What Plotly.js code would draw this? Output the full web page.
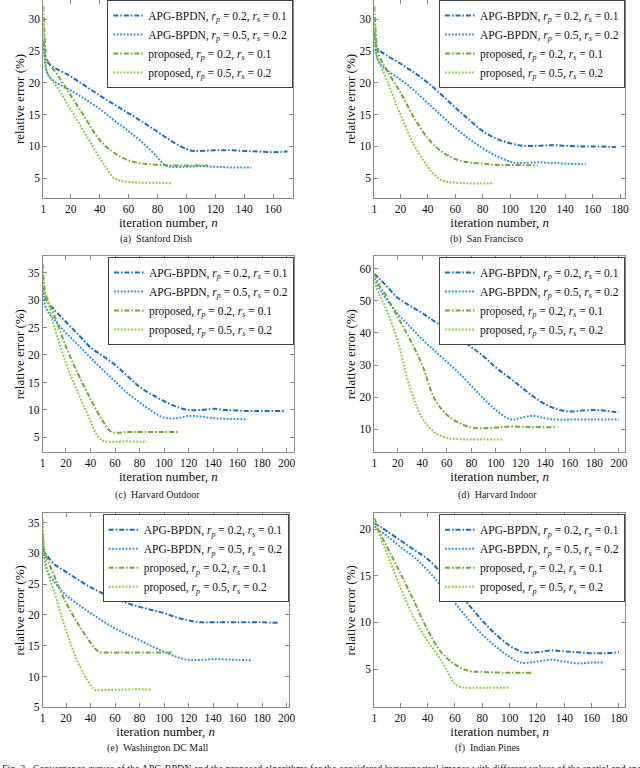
<!DOCTYPE html>
<html>
<head>
<meta charset="utf-8">
<script src="https://cdn.plot.ly/plotly-3.0.1.min.js"></script>
<style>
  html, body { margin: 0; padding: 0; background: #fff; }
  #chart { width: 640px; height: 768px; }
</style>
</head>
<body>
<div id="chart"></div>
<script>
// (a) Stanford Dish
const dishApg02N = [1, 2, 3, 5, 10, 20, 30, 40, 50, 60, 70, 80, 90, 100, 105, 110, 120, 130, 140, 150, 160, 170];
const dishApg02 = [26.5, 24.5, 23.5, 23, 22.2, 21, 19.5, 18, 16.6, 15.2, 13.8, 12.3, 10.8, 9.6, 9.3, 9.3, 9.4, 9.4, 9.3, 9.2, 9.1, 9.2];
const dishApg05N = [1, 2, 3, 5, 10, 20, 30, 40, 50, 60, 70, 80, 85, 90, 100, 110, 120, 130, 145];
const dishApg05 = [26, 23.5, 22, 21, 20, 18.8, 17.4, 15.9, 14.1, 12.4, 10.5, 8.3, 7.1, 6.8, 6.8, 6.9, 6.8, 6.7, 6.7];
const dishProp02N = [1, 2, 3, 5, 10, 20, 30, 40, 50, 60, 70, 80, 90, 100, 115];
const dishProp02 = [32, 27, 24, 23, 21.5, 18, 14.5, 11, 9, 7.8, 7.3, 7.1, 7.0, 7.0, 7.0];
const dishProp05N = [1, 2, 3, 5, 10, 20, 30, 40, 45, 50, 55, 60, 70, 80, 90];
const dishProp05 = [30, 25, 22.5, 21, 19.5, 15.8, 12, 8.2, 6.5, 5.0, 4.6, 4.4, 4.3, 4.3, 4.2];

// (b) San Francisco
const sfApg02N = [1, 2, 3, 5, 10, 20, 30, 40, 50, 60, 70, 80, 90, 100, 110, 120, 130, 140, 150, 160, 177];
const sfApg02 = [28, 26, 25.5, 25, 24.3, 23, 21.6, 20, 18.1, 16.1, 14.2, 12.4, 11.2, 10.5, 10.1, 10.1, 10.2, 10.1, 10.0, 10.0, 9.9];
const sfApg05N = [1, 2, 3, 5, 10, 20, 30, 40, 50, 60, 70, 80, 90, 100, 105, 110, 120, 130, 140, 155];
const sfApg05 = [27, 25, 24, 23, 22, 20.5, 18.8, 16.8, 14.8, 12.9, 11.2, 9.7, 8.5, 7.6, 7.4, 7.4, 7.5, 7.4, 7.3, 7.2];
const sfProp02N = [1, 2, 3, 5, 10, 20, 30, 40, 50, 60, 70, 80, 90, 100, 120];
const sfProp02 = [32, 28, 25.5, 24, 22, 18.5, 14.5, 11.3, 9.2, 8.0, 7.5, 7.3, 7.1, 7.1, 7.0];
const sfProp05N = [1, 2, 3, 5, 10, 20, 30, 40, 45, 50, 55, 60, 70, 88];
const sfProp05 = [30, 26, 24, 23, 20.5, 15, 10.2, 6.8, 5.5, 4.7, 4.4, 4.3, 4.2, 4.2];

// (c) Harvard Outdoor
const hoApg02N = [1, 3, 5, 10, 20, 30, 40, 50, 60, 70, 80, 90, 100, 110, 120, 130, 140, 150, 160, 170, 180, 198];
const hoApg02 = [32.5, 30.5, 29.6, 28.3, 26, 23.7, 21.4, 19.8, 18.2, 16.2, 14.2, 12.8, 11.6, 10.6, 10.0, 10.0, 10.2, 10.0, 9.9, 9.8, 9.8, 9.8];
const hoApg05N = [1, 3, 5, 10, 20, 30, 40, 50, 60, 70, 80, 90, 100, 110, 120, 130, 140, 150, 168];
const hoApg05 = [32, 29, 28, 26.5, 24, 21.8, 19.5, 17.3, 15.2, 13.1, 11.4, 9.8, 8.6, 8.5, 8.9, 8.8, 8.5, 8.4, 8.3];
const hoProp02N = [1, 2, 3, 5, 10, 20, 30, 40, 50, 57, 70, 80, 100, 113];
const hoProp02 = [36.5, 33, 31.5, 30, 27.5, 21.5, 16.5, 12, 8, 6.0, 6.0, 6.0, 6.0, 6.0];
const hoProp05N = [1, 2, 3, 5, 10, 20, 30, 40, 45, 50, 55, 60, 70, 80, 86];
const hoProp05 = [35, 32, 31, 30, 25.5, 18.5, 13, 8, 5.5, 4.4, 4.2, 4.2, 4.3, 4.2, 4.2];

// (d) Harvard Indoor
const hiApg02N = [1, 5, 10, 20, 30, 40, 50, 60, 70, 80, 90, 100, 110, 120, 130, 140, 150, 160, 170, 180, 190, 200];
const hiApg02 = [58.5, 57, 55, 51, 48.5, 46.2, 43.6, 41, 38.3, 35.6, 32.7, 29.2, 26.3, 23.3, 20.3, 17.8, 16.2, 15.5, 15.8, 16.0, 15.7, 15.2];
const hiApg05N = [1, 5, 10, 20, 30, 40, 50, 60, 70, 80, 90, 100, 110, 115, 120, 130, 140, 150, 160, 180, 200];
const hiApg05 = [57, 54, 51, 46, 42, 38, 34.5, 31, 27.5, 23.5, 19.5, 16, 13.3, 13.0, 13.5, 14.2, 13.4, 13.0, 13.0, 13.0, 13.0];
const hiProp02N = [1, 5, 10, 20, 30, 40, 50, 60, 70, 80, 90, 100, 110, 130, 150];
const hiProp02 = [58.5, 55, 52, 45, 38, 30, 19.5, 14.5, 12, 10.5, 10.3, 10.5, 10.8, 10.7, 10.6];
const hiProp05N = [1, 5, 10, 20, 30, 40, 50, 60, 70, 80, 106];
const hiProp05 = [56, 52, 48, 37.5, 23, 13.5, 9, 7.3, 6.9, 6.8, 6.8];

// (e) Washington DC Mall
const dcApg02N = [1, 3, 5, 10, 20, 30, 40, 50, 60, 70, 80, 90, 100, 110, 120, 130, 140, 160, 180, 194];
const dcApg02 = [31, 30, 29.5, 28.3, 27, 25.7, 24.5, 23.5, 22.6, 21.9, 21.3, 20.8, 20.3, 19.6, 19.1, 18.8, 18.8, 18.8, 18.8, 18.7];
const dcApg05N = [1, 3, 5, 10, 20, 30, 40, 50, 60, 70, 80, 90, 100, 110, 120, 130, 140, 160, 172];
const dcApg05 = [31, 28.5, 27, 25.5, 23.2, 21.7, 20.3, 19, 17.8, 16.8, 15.9, 14.9, 14, 13.2, 12.7, 12.7, 12.8, 12.7, 12.6];
const dcProp02N = [1, 2, 3, 5, 10, 20, 30, 40, 47, 55, 70, 90, 107];
const dcProp02 = [33, 31, 30, 29, 26.5, 22, 18.5, 15.5, 14, 13.9, 13.9, 13.9, 13.9];
const dcProp05N = [1, 2, 3, 5, 10, 20, 30, 40, 44, 50, 60, 70, 90];
const dcProp05 = [35.5, 31, 29.5, 27, 24, 17.5, 12.2, 8.6, 7.8, 7.8, 7.8, 7.9, 7.9];

// (f) Indian Pines
const ipApg02N = [1, 5, 10, 20, 30, 40, 50, 60, 70, 80, 90, 100, 105, 110, 120, 130, 140, 150, 160, 170, 180];
const ipApg02 = [20.6, 20.3, 19.8, 18.8, 17.8, 16.8, 15.3, 13.7, 11.9, 10.2, 8.7, 7.5, 7.1, 6.8, 6.8, 7.0, 6.9, 6.8, 6.7, 6.7, 6.8];
const ipApg05N = [1, 5, 10, 20, 30, 40, 50, 60, 70, 80, 90, 100, 108, 115, 120, 130, 140, 150, 160, 168];
const ipApg05 = [20.3, 19.8, 19.3, 18.1, 17, 15.6, 13.9, 12.1, 10.3, 8.7, 7.4, 6.3, 5.7, 5.7, 5.8, 6.0, 5.8, 5.6, 5.7, 5.7];
const ipProp02N = [1, 5, 10, 20, 30, 40, 50, 60, 70, 80, 100, 116];
const ipProp02 = [21.2, 19.6, 18.2, 15.3, 12.3, 9.2, 6.8, 5.5, 4.8, 4.7, 4.6, 4.6];
const ipProp05N = [1, 5, 10, 20, 30, 40, 50, 55, 60, 65, 80, 100];
const ipProp05 = [21.2, 19.3, 17.5, 13.8, 10.5, 8.0, 5.9, 4.6, 3.4, 3.05, 3.0, 3.0];

// tick values
const xTicks160 = [1, 20, 40, 60, 80, 100, 120, 140, 160];
const xTicks180 = [1, 20, 40, 60, 80, 100, 120, 140, 160, 180];
const xTicks200 = [1, 20, 40, 60, 80, 100, 120, 140, 160, 180, 200];
const yTicks30 = [5, 10, 15, 20, 25, 30];
const yTicks35 = [5, 10, 15, 20, 25, 30, 35];
const yTicks60 = [10, 20, 30, 40, 50, 60];
const yTicks20 = [5, 10, 15, 20];

const seriesNames = [
  'APG-BPDN, <i>r</i><sub><i>p</i></sub> = 0.2, <i>r</i><sub><i>s</i></sub> = 0.1',
  'APG-BPDN, <i>r</i><sub><i>p</i></sub> = 0.5, <i>r</i><sub><i>s</i></sub> = 0.2',
  'proposed, <i>r</i><sub><i>p</i></sub> = 0.2, <i>r</i><sub><i>s</i></sub> = 0.1',
  'proposed, <i>r</i><sub><i>p</i></sub> = 0.5, <i>r</i><sub><i>s</i></sub> = 0.2'
];
const captions = ['(a)\u00a0 Stanford Dish', '(b)\u00a0 San Francisco', '(c)\u00a0 Harvard Outdoor',
  '(d)\u00a0 Harvard Indoor', '(e)\u00a0 Washington DC Mall', '(f)\u00a0 Indian Pines'];

const FONT = 'Liberation Serif, Times New Roman, serif';
const colors = ['#1b6fc2', '#2e8fe6', '#6fa932', '#8dcb3d'];
// matlab-like '-.' and ':' line styles
const dashes = ['5px,2px,1.5px,2px', '1.8px,1.6px', '5px,2px,1.5px,2px', '1.8px,1.6px'];

// panel geometry, measured in px of the 640x768 picture
const panels = [
  { data: [[dishApg02N, dishApg02], [dishApg05N, dishApg05], [dishProp02N, dishProp02], [dishProp05N, dishProp05]],
    xd: [43.3, 293.3], yd: [0, 198], xr: [1, 174], yr: [1.9, 33], xt: xTicks160, yt: yTicks30, cap: [156, 239] },
  { data: [[sfApg02N, sfApg02], [sfApg05N, sfApg05], [sfProp02N, sfProp02], [sfProp05N, sfProp05]],
    xd: [374.3, 625], yd: [0, 198], xr: [1, 183.6], yr: [1.9, 33], xt: xTicks180, yt: yTicks30, cap: [486, 239] },
  { data: [[hoApg02N, hoApg02], [hoApg05N, hoApg05], [hoProp02N, hoProp02], [hoProp05N, hoProp05]],
    xd: [42.7, 294], yd: [256, 452.3], xr: [1, 206], yr: [2.3, 38], xt: xTicks200, yt: yTicks35, cap: [157, 495] },
  { data: [[hiApg02N, hiApg02], [hiApg05N, hiApg05], [hiProp02N, hiProp02], [hiProp05N, hiProp05]],
    xd: [374.3, 625], yd: [256, 452.3], xr: [1, 205], yr: [2.8, 64], xt: xTicks200, yt: yTicks60, cap: [497, 495] },
  { data: [[dcApg02N, dcApg02], [dcApg05N, dcApg05], [dcProp02N, dcProp02], [dcProp05N, dcProp05]],
    xd: [42.7, 288.7], yd: [513.3, 707.3], xr: [1, 201.6], yr: [5, 36.5], xt: xTicks200, yt: yTicks35, cap: [157, 748] },
  { data: [[ipApg02N, ipApg02], [ipApg05N, ipApg05], [ipProp02N, ipProp02], [ipProp05N, ipProp05]],
    xd: [374.3, 625], yd: [513.3, 707.3], xr: [1, 184.4], yr: [0.9, 21.7], xt: xTicks180, yt: yTicks20, cap: [487, 748] }
];

const W = 640, H = 768;
const px = v => v / W;
const py = v => 1 - v / H;

function axisStyle(extra) {
  return Object.assign({
    showline: true, mirror: 'ticks', ticks: 'inside', ticklen: 4,
    linecolor: '#8a8a8a', tickcolor: '#8a8a8a', linewidth: 1,
    showgrid: false, zeroline: false,
    tickfont: { family: FONT, size: 11.5, color: '#111' }
  }, extra);
}

const traces = [];
const layout = {
  width: W, height: H,
  margin: { l: 0, r: 0, t: 0, b: 0 },
  paper_bgcolor: '#fff', plot_bgcolor: '#fff',
  font: { family: FONT, color: '#111' },
  annotations: []
};

panels.forEach((p, i) => {
  const k = i + 1;
  const sfx = k === 1 ? '' : String(k);
  const legendId = 'legend' + sfx;
  p.data.forEach((s, j) => {
    traces.push({
      x: s[0], y: s[1], type: 'scatter', mode: 'lines',
      name: seriesNames[j],
      line: { color: colors[j], dash: dashes[j], width: 2, shape: 'spline', smoothing: 1 },
      xaxis: 'x' + sfx, yaxis: 'y' + sfx,
      legend: legendId
    });
  });
  layout['xaxis' + sfx] = axisStyle({
    domain: [px(p.xd[0]), px(p.xd[1])], range: p.xr, anchor: 'y' + sfx,
    tickvals: p.xt,
    title: { text: 'iteration number, <i>n</i>', font: { family: FONT, size: 13 }, standoff: 1 }
  });
  layout['yaxis' + sfx] = axisStyle({
    domain: [py(p.yd[1]), py(p.yd[0])], range: p.yr, anchor: 'x' + sfx,
    tickvals: p.yt,
    title: { text: 'relative error (%)', font: { family: FONT, size: 13 }, standoff: 0 }
  });
  layout[legendId] = {
    x: px(p.xd[1]), y: py(p.yd[0] === 0 ? 0 : p.yd[0] + 1), xanchor: 'right', yanchor: 'top',
    bgcolor: '#fff', bordercolor: '#444', borderwidth: 1,
    font: { family: FONT, size: 11.5, color: '#111' },
    itemwidth: 30, tracegroupgap: 0
  };
  layout.annotations.push({
    text: captions[i], xref: 'paper', yref: 'paper',
    x: px(p.cap[0]), y: py(p.cap[1]), xanchor: 'center', yanchor: 'middle',
    showarrow: false, font: { family: FONT, size: 10, color: '#222' }
  });
});

layout.annotations.push({
  text: 'Fig. 3.\u00a0 Convergence curves of the APG-BPDN and the proposed algorithms for the considered hyperspectral images with different values of the spatial and spectral',
  xref: 'paper', yref: 'paper', x: 0, y: py(768), xanchor: 'left', yanchor: 'middle',
  showarrow: false, font: { family: FONT, size: 10, color: '#222' }
});

Plotly.newPlot('chart', traces, layout, { displayModeBar: false, staticPlot: true });
</script>
</body>
</html>
